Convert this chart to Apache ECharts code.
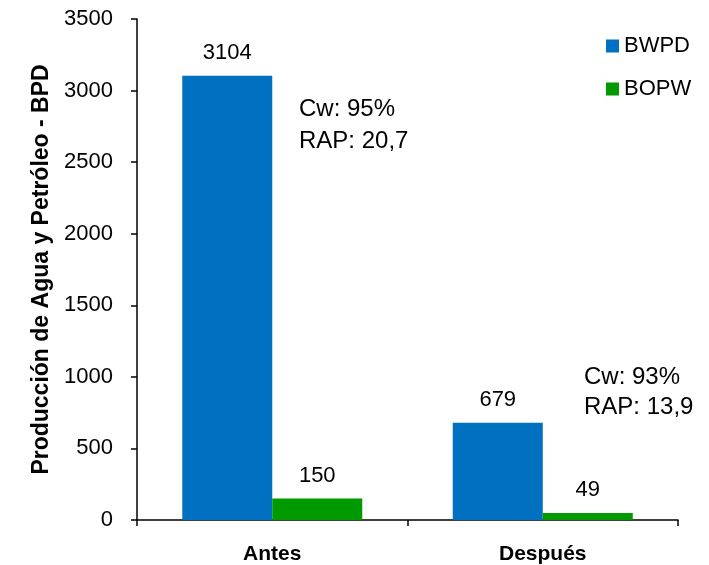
<!DOCTYPE html>
<html>
<head>
<meta charset="utf-8">
<script src="https://cdn.jsdelivr.net/npm/echarts@6/dist/echarts.min.js"></script>
<style>
  html, body { margin: 0; padding: 0; background: #fff; }
  #chart { width: 709px; height: 565px; }
</style>
</head>
<body>
<div id="chart"></div>
<script>
const categories = ['Antes', 'Después'];
const bwpd = [3104, 679];
const bopw = [150, 49];
const notes = [['Cw: 95%', 'RAP: 20,7'], ['Cw: 93%', 'RAP: 13,9']];

const FONT = '"Liberation Sans", Arial, sans-serif';
let chart = echarts.init(document.getElementById('chart'));

let labelStyle = {
  show: true,
  position: 'top',
  distance: 12,
  fontFamily: FONT,
  fontSize: 22,
  color: '#000'
};

let option = {
  animation: false,
  textStyle: { fontFamily: FONT },
  grid: { left: 137, right: 31, top: 19, bottom: 45 },
  legend: {
    orient: 'vertical',
    left: 601,
    top: 30,
    itemGap: 21,
    itemWidth: 13,
    itemHeight: 13,
    icon: 'rect',
    textStyle: { fontFamily: FONT, fontSize: 22, color: '#000' },
    data: ['BWPD', 'BOPW']
  },
  xAxis: {
    type: 'category',
    data: categories,
    axisLine: { lineStyle: { color: '#000', width: 1.5 } },
    axisTick: { show: true, length: 6, inside: false, lineStyle: { color: '#000', width: 1.5 } },
    axisLabel: { fontFamily: FONT, fontSize: 21, fontWeight: 'bold', color: '#000', margin: 24 }
  },
  yAxis: {
    type: 'value',
    min: 0,
    max: 3500,
    interval: 500,
    name: 'Producción de Agua y Petróleo - BPD',
    nameLocation: 'middle',
    nameGap: 80,
    nameTextStyle: { fontFamily: FONT, fontSize: 23, fontWeight: 'bold', color: '#000' },
    splitLine: { show: false },
    axisLine: { show: true, lineStyle: { color: '#000', width: 1.5 } },
    axisTick: { show: true, length: 6, lineStyle: { color: '#000', width: 1.5 } },
    axisLabel: {
      fontFamily: FONT,
      fontSize: 22,
      color: '#000',
      margin: 24,
      formatter: function (v) { return String(v); }
    }
  },
  series: [
    {
      name: 'BWPD',
      type: 'bar',
      data: bwpd,
      barWidth: 90,
      barGap: '0%',
      itemStyle: { color: '#0070C0' },
      label: labelStyle
    },
    {
      name: 'BOPW',
      type: 'bar',
      data: bopw,
      barWidth: 90,
      itemStyle: { color: '#009900' },
      label: labelStyle
    }
  ],
  graphic: [
    {
      type: 'text',
      left: 299,
      top: 93,
      style: { text: notes[0].join('\n'), fontFamily: FONT, fontSize: 24, lineHeight: 32, fill: '#000' }
    },
    {
      type: 'text',
      left: 584,
      top: 362,
      style: { text: notes[1].join('\n'), fontFamily: FONT, fontSize: 24, lineHeight: 30, fill: '#000' }
    }
  ]
};

chart.setOption(option);
</script>
</body>
</html>
